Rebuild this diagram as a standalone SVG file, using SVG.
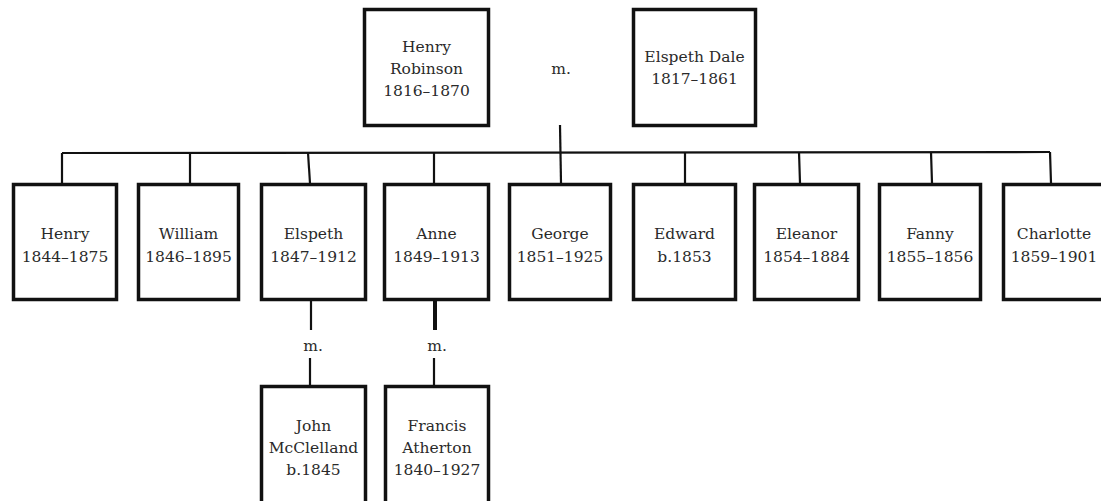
<svg xmlns="http://www.w3.org/2000/svg" width="1101" height="501" viewBox="0 0 1101 501">
<style>
.box{fill:#fff;stroke:#111;stroke-width:3.5}
.ln{stroke:#111;stroke-width:2.2;fill:none}
.t{font-family:"DejaVu Serif","Liberation Serif",serif;font-size:15.5px;fill:#2a2a2a;text-anchor:middle}
</style>
<rect width="1101" height="501" fill="#fff"/>
<g id="connectors">
<path class="ln" d="M560 125 L561 183"/>
<path class="ln" d="M62 153 L1050 152"/>
<path class="ln" d="M62 153 L62 183"/>
<path class="ln" d="M190 153 L190 183"/>
<path class="ln" d="M308 153 L310 183"/>
<path class="ln" d="M434 153 L434 183"/>
<path class="ln" d="M685 152 L685 183"/>
<path class="ln" d="M799 152 L800 183"/>
<path class="ln" d="M931 152 L932 183"/>
<path class="ln" d="M1050 152 L1051 183"/>
<path class="ln" d="M311 301 L311 330"/>
<path class="ln" d="M310 358 L310 385"/>
<path class="ln" d="M435 301 L435 330" style="stroke-width:4"/>
<path class="ln" d="M434 358 L434 385"/>
<text class="t" x="561" y="74">m.</text>
<text class="t" x="313" y="351">m.</text>
<text class="t" x="437" y="351">m.</text>
</g>
<g id="henry-robinson"><rect class="box" x="364.5" y="9.5" width="124" height="116"/>
<text class="t" x="426.5" y="52">Henry</text><text class="t" x="426.5" y="74">Robinson</text><text class="t" x="426.5" y="96">1816–1870</text></g>
<g id="elspeth-dale"><rect class="box" x="633.5" y="9.5" width="122" height="116"/>
<text class="t" x="694.5" y="62">Elspeth Dale</text><text class="t" x="694.5" y="84">1817–1861</text></g>
<g id="henry"><rect class="box" x="13.5" y="184.5" width="103" height="115"/>
<text class="t" x="65" y="239">Henry</text><text class="t" x="65" y="262">1844–1875</text></g>
<g id="william"><rect class="box" x="138.5" y="184.5" width="100" height="115"/>
<text class="t" x="188.5" y="239">William</text><text class="t" x="188.5" y="262">1846–1895</text></g>
<g id="elspeth"><rect class="box" x="261.5" y="184.5" width="104" height="115"/>
<text class="t" x="313.5" y="239">Elspeth</text><text class="t" x="313.5" y="262">1847–1912</text></g>
<g id="anne"><rect class="box" x="384.5" y="184.5" width="104" height="115"/>
<text class="t" x="436.5" y="239">Anne</text><text class="t" x="436.5" y="262">1849–1913</text></g>
<g id="george"><rect class="box" x="509.5" y="184.5" width="101" height="115"/>
<text class="t" x="560" y="239">George</text><text class="t" x="560" y="262">1851–1925</text></g>
<g id="edward"><rect class="box" x="633.5" y="184.5" width="102" height="115"/>
<text class="t" x="684.5" y="239">Edward</text><text class="t" x="684.5" y="262">b.1853</text></g>
<g id="eleanor"><rect class="box" x="754.5" y="184.5" width="104" height="115"/>
<text class="t" x="806.5" y="239">Eleanor</text><text class="t" x="806.5" y="262">1854–1884</text></g>
<g id="fanny"><rect class="box" x="879.5" y="184.5" width="101" height="115"/>
<text class="t" x="930" y="239">Fanny</text><text class="t" x="930" y="262">1855–1856</text></g>
<g id="charlotte"><rect class="box" x="1003.5" y="184.5" width="104" height="115"/>
<text class="t" x="1054" y="239">Charlotte</text><text class="t" x="1054" y="262">1859–1901</text></g>
<g id="john-mcclelland"><rect class="box" x="261.5" y="386.5" width="104" height="125"/>
<text class="t" x="313.5" y="431">John</text><text class="t" x="313.5" y="453">McClelland</text><text class="t" x="313.5" y="475">b.1845</text></g>
<g id="francis-atherton"><rect class="box" x="385.5" y="386.5" width="103" height="125"/>
<text class="t" x="437" y="431">Francis</text><text class="t" x="437" y="453">Atherton</text><text class="t" x="437" y="475">1840–1927</text></g>
</svg>
